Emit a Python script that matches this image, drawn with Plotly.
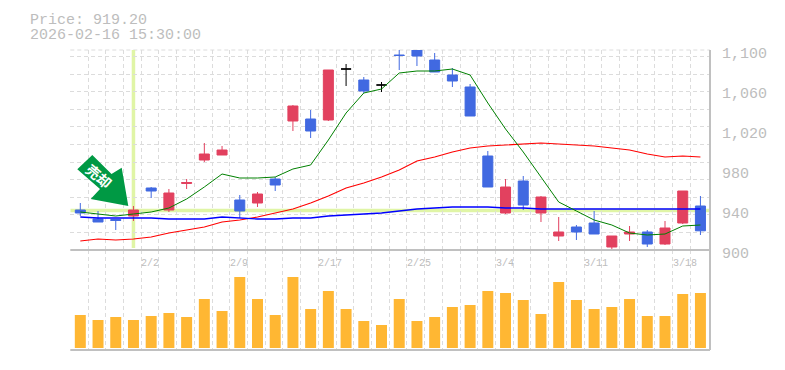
import plotly.graph_objects as go

dates = ["1/27","1/28","1/29","1/30","2/2","2/3","2/4","2/5","2/6","2/9","2/10","2/12","2/13","2/16",
         "2/17","2/18","2/19","2/20","2/24","2/25","2/26","2/27","3/2","3/3","3/4","3/5","3/6","3/9",
         "3/10","3/11","3/12","3/13","3/16","3/17","3/18","3/19"]
date_labels = ["2/2","2/9","2/17","2/25","3/4","3/11","3/18"]
price_labels = [1100,1060,1020,980,940,900]

opens  = [940,931,930.5,934,962,940,966.5,990,995,950,947,971,1029,1031,1030,1081,1070,1065,1095,1102,1090,1075,1063,994,937,969,937,914,923,927,903,916,918,906,927,944]
highs  = [947,939,930.5,944,963,961,971,1007,1004,955,958,973,1045,1040,1080,1086,1073,1068,1103,1104,1097,1082,1066,999,971,974,954,933,925,939,914,924,920,929,959,954]
lows   = [934,928,920,929,952,938,961,988,995,932,943,959,1019,1012,1029,1064,1057,1058,1080,1084,1078,1063,1034,963,936,940,928,909,910,916,899,909,903,905,926,915]
closes = [937,928,929.5,940,959,957,967.5,996,1000,939,956,965,1044,1019,1080,1081,1059,1065,1094.5,1094,1078,1069,1034,963,963,945,953,918,918,916,914,918,906,922,959,919.2]
ma_green = [938,936,934,936,938,942,951,963,976,972,972,973,981,985,1010,1037,1057,1061,1077,1079,1079,1081,1075,1047,1021,998,973,948,939,930,925,917,915,916,924,925]
ma_red   = [909,911,910,911,913,917,920,923,928,930,933,937,941,947,954,962,967,973,980,989,993,998,1002,1004,1005,1006,1007,1006,1005,1004,1002,1000,996,993,994,993]
ma_blue  = [933,932,932,932,932,931,931,931,933,932,931,931,932,932,934,935,936,937,939,941,942,943,943,943,942,942,941,941,941,941,941,941,941,941,941,941]
volumes  = [33,28,31,28,32,35,31,49,37,71,49,33,71,39,57,39,27,23,49,27,31,41,43,57,55,48,34,66,48,39,41,49,32,32,54,55]

signal_index = 3
signal_price = 939.5
last_price = "Price: 919.20"
last_time = "2026-02-16 15:30:00"

RED, BLUE, BLACK = "#e2415f", "#4169e1", "#000000"
GRID, AXIS, TEXT = "#dcdcdc", "#c0c0c0", "#bdbdbd"
MONO = "Liberation Mono, monospace"
n = len(dates)
GRID_OFFSET = 0.565
x = list(range(n))

def colour_of(i):
    if abs(opens[i] - closes[i]) < 0.01:
        return BLACK
    return RED if closes[i] > opens[i] else BLUE

fig = go.Figure()
for colour in (RED, BLUE, BLACK):
    idx = [i for i in x if colour_of(i) == colour]
    fig.add_trace(go.Candlestick(
        x=idx, open=[opens[i] for i in idx], high=[highs[i] for i in idx],
        low=[lows[i] for i in idx], close=[closes[i] for i in idx],
        increasing=dict(line=dict(color=colour, width=1), fillcolor=colour),
        decreasing=dict(line=dict(color=colour, width=1), fillcolor=colour),
        whiskerwidth=0, showlegend=False, hoverinfo="skip", xaxis="x", yaxis="y"))

fig.add_trace(go.Scatter(x=x, y=ma_red, mode="lines", line=dict(color="#ff0000", width=1.1), showlegend=False, hoverinfo="skip"))
fig.add_trace(go.Scatter(x=x, y=ma_blue, mode="lines", line=dict(color="#0000ff", width=1.3), showlegend=False, hoverinfo="skip"))
fig.add_trace(go.Scatter(x=x, y=ma_green, mode="lines", line=dict(color="#008000", width=1), showlegend=False, hoverinfo="skip"))
fig.add_trace(go.Bar(x=x, y=volumes, marker=dict(color="#ffb733", line=dict(width=0)), width=0.62,
                     showlegend=False, hoverinfo="skip", xaxis="x2", yaxis="y2"))

grid_x = [i - GRID_OFFSET for i in x]
x_range = [-GRID_OFFSET, 35.54]
grid_common = dict(showgrid=True, gridcolor=GRID, griddash="4px,3px", gridwidth=1,
                   zeroline=False, showticklabels=False, ticks="")
fig.update_layout(
    width=785, height=370, autosize=False,
    margin=dict(l=0, r=0, t=0, b=0), paper_bgcolor="white", plot_bgcolor="white",
    boxmode="overlay", boxgap=0.435, boxgroupgap=0, bargap=0.38,
    xaxis=dict(domain=[70.3/785, 710/785], range=x_range, tickmode="array", tickvals=grid_x,
               anchor="y", rangeslider=dict(visible=False), showline=False, **grid_common),
    yaxis=dict(domain=[1-250/370, 1-50/370], range=[900, 1100], tickmode="array",
               tickvals=[900 + k*17.6 for k in range(1, 12)], anchor="x", showline=False, **grid_common),
    xaxis2=dict(domain=[70.3/785, 710/785], range=x_range, tickmode="array", tickvals=grid_x,
                anchor="y2", showline=False, **grid_common),
    yaxis2=dict(domain=[1-350/370, 1-250/370], range=[-2, 98], anchor="x2",
                showgrid=False, zeroline=False, showticklabels=False, ticks=""),
)

# axis frame
for s in [
    dict(x0=0, x1=1, y0=1-250/370, y1=1-250/370, line=dict(color=AXIS, width=2)),
    dict(x0=0, x1=1, y0=1-350/370, y1=1-350/370, line=dict(color=AXIS, width=2)),
]:
    fig.add_shape(type="line", xref="x domain", yref="paper", layer="above", **s)
fig.add_shape(type="line", xref="paper", yref="paper", x0=710/785, x1=710/785, y0=1-350/370, y1=1-50/370,
              line=dict(color=AXIS, width=2), layer="above")
fig.add_shape(type="line", xref="paper", yref="paper", x0=70.3/785, x1=710/785, y0=1-50/370, y1=1-50/370,
              line=dict(color=GRID, width=1, dash="4px,3px"), layer="below")

# signal cross lines
LIME = "#e0f5a6"
fig.add_shape(type="line", xref="x", yref="y", x0=signal_index, x1=signal_index, y0=902, y1=1100,
              line=dict(color=LIME, width=3.5), layer="below")
fig.add_shape(type="line", xref="x", yref="y", x0=x_range[0], x1=x_range[1], y0=signal_price, y1=signal_price,
              line=dict(color=LIME, width=3.5), layer="below")

# signal arrow (paper pixels)
pts = [(92.3,155),(111.5,174),(121.7,167.7),(128.3,206),(90.7,199),(100,189),(77.3,169.3)]
path = "M " + " L ".join(f"{px/785:.5f},{1-py/370:.5f}" for px, py in pts) + " Z"
fig.add_shape(type="path", xref="paper", yref="paper", path=path, fillcolor="#009944", line=dict(width=0), layer="above")
fig.add_annotation(xref="paper", yref="paper", x=99/785, y=1-176/370, text="<b>売却</b>", showarrow=False, textangle=40,
                   font=dict(family="Noto Sans CJK JP", size=14, color="white"), xanchor="center", yanchor="middle")

# texts
for label in date_labels:
    fig.add_annotation(x=dates.index(label) - GRID_OFFSET, xref="x2", y=1-263/370, yref="paper", text=label,
                       showarrow=False, xanchor="left", yanchor="middle", xshift=-2,
                       font=dict(family=MONO, size=10, color=TEXT))
for p in price_labels:
    fig.add_annotation(x=719.5/785, xref="paper", y=p, yref="y", text=f"{p:,}", showarrow=False, xanchor="left",
                       yanchor="middle", yshift=-4.5, font=dict(family=MONO, size=15, color=TEXT))
for text, ypx in ((last_price, 20), (last_time, 35)):
    fig.add_annotation(x=28/785, xref="paper", y=1-ypx/370, yref="paper", text=text, showarrow=False,
                       xanchor="left", yanchor="middle", height=14, font=dict(family=MONO, size=15, color=TEXT))

fig.write_html("out.html", config=dict(displayModeBar=False),
               post_script="document.body.style.margin='0';document.documentElement.style.overflow='hidden';")
